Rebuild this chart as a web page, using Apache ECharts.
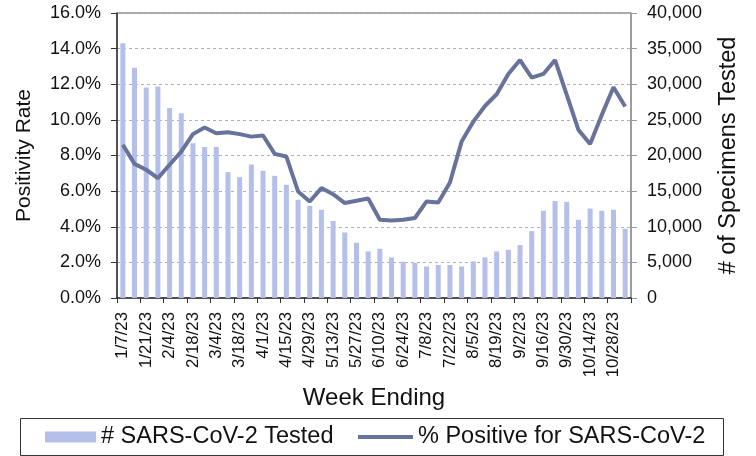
<!DOCTYPE html>
<html>
<head>
<meta charset="utf-8">
<script src="https://cdn.jsdelivr.net/npm/echarts@6/dist/echarts.min.js"></script>
<style>
  html, body { margin: 0; padding: 0; background: #fff; }
  #chart { width: 756px; height: 456px; }
</style>
</head>
<body>
<div id="chart"></div>
<script>
// week ending dates
var weeks = ['1/7/23','1/14/23','1/21/23','1/28/23','2/4/23','2/11/23','2/18/23','2/25/23','3/4/23','3/11/23',
  '3/18/23','3/25/23','4/1/23','4/8/23','4/15/23','4/22/23','4/29/23','5/6/23','5/13/23','5/20/23',
  '5/27/23','6/3/23','6/10/23','6/17/23','6/24/23','7/1/23','7/8/23','7/15/23','7/22/23','7/29/23',
  '8/5/23','8/12/23','8/19/23','8/26/23','9/2/23','9/9/23','9/16/23','9/23/23','9/30/23','10/7/23',
  '10/14/23','10/21/23','10/28/23','11/4/23'];

// # SARS-CoV-2 tested
var tested = [35750, 32330, 29530, 29670, 26680, 25940, 21730, 21210, 21210, 17670,
  16960, 18730, 17850, 17150, 15890, 13780, 12940, 12380, 10800, 9200,
  7750, 6540, 6910, 5700, 5090, 4910, 4430, 4630, 4630, 4430,
  5130, 5700, 6540, 6770, 7430, 9390, 12240, 13600, 13500, 10980,
  12560, 12240, 12380, 9720];

// % positive
var positive = [8.60, 7.53, 7.20, 6.73, 7.48, 8.22, 9.20, 9.57, 9.25, 9.31,
  9.20, 9.06, 9.12, 8.09, 7.94, 5.98, 5.42, 6.17, 5.83, 5.33,
  5.46, 5.59, 4.39, 4.35, 4.39, 4.49, 5.42, 5.36, 6.48, 8.78,
  9.90, 10.78, 11.44, 12.58, 13.36, 12.37, 12.58, 13.36, 11.40, 9.44,
  8.65, 10.28, 11.83, 10.75];

var chart = echarts.init(document.getElementById('chart'));
var font = 'Liberation Sans, Arial, sans-serif';
var barColor = '#b4bfea';
var lineColor = '#68739c';

var option = {
  animation: false,
  textStyle: { fontFamily: font },
  grid: {
    left: 117, right: 125, top: 13, bottom: 158,
    show: true, borderColor: '#555', borderWidth: 1
  },
  graphic: [{
    type: 'rect',
    shape: { x: 20.5, y: 418.5, width: 703, height: 37 },
    style: { fill: 'none', stroke: '#333', lineWidth: 1 },
    z: -1
  }],
  legend: [{
    left: 45, top: 425, padding: 0,
    itemWidth: 51, itemHeight: 11, itemGap: 0,
    textStyle: { fontFamily: font, fontSize: 23.5, color: '#111', padding: [0, 0, 0, 0] },
    data: [{ name: '# SARS-CoV-2 Tested', icon: 'rect' }]
  }, {
    left: 358, top: 425, padding: 0,
    itemWidth: 55, itemHeight: 4, itemGap: 0,
    textStyle: { fontFamily: font, fontSize: 23.5, color: '#111' },
    data: [{ name: '% Positive for SARS-CoV-2', icon: 'rect' }]
  }],
  xAxis: {
    type: 'category',
    data: weeks,
    name: 'Week Ending',
    nameLocation: 'middle',
    nameGap: 88,
    nameTextStyle: { fontSize: 24, color: '#111' },
    axisLine: { lineStyle: { color: '#333', width: 1.5 } },
    axisTick: { show: true, length: 5, lineStyle: { color: '#333' } },
    axisLabel: { rotate: 90, interval: 1, fontSize: 16.8, color: '#111', margin: 14 }
  },
  yAxis: [{
    type: 'value',
    min: 0, max: 0.16, interval: 0.02,
    name: 'Positivity Rate',
    nameLocation: 'middle',
    nameGap: 82,
    nameTextStyle: { fontSize: 21, color: '#111' },
    axisLine: { show: true, lineStyle: { color: '#333', width: 1.5 } },
    axisTick: { show: true, length: 6, lineStyle: { color: '#333' } },
    axisLabel: { fontSize: 18, color: '#111', margin: 16,
      formatter: function (v) { return (v * 100).toFixed(1) + '%'; } },
    splitLine: { lineStyle: { type: [3, 3], color: '#b0b0b0' } }
  }, {
    type: 'value',
    min: 0, max: 40000, interval: 5000,
    name: '# of Specimens Tested',
    nameLocation: 'middle',
    nameGap: 86,
    nameTextStyle: { fontSize: 23.5, color: '#111' },
    axisLine: { show: true, lineStyle: { color: '#999', width: 1.5 } },
    axisTick: { show: true, length: 6, lineStyle: { color: '#999' } },
    axisLabel: { fontSize: 18, color: '#111', margin: 16,
      formatter: function (v) { return v.toLocaleString('en-US'); } },
    splitLine: { show: false }
  }],
  series: [{
    name: '# SARS-CoV-2 Tested',
    type: 'bar',
    yAxisIndex: 1,
    barWidth: 5,
    itemStyle: { color: barColor },
    data: tested
  }, {
    name: '% Positive for SARS-CoV-2',
    type: 'line',
    yAxisIndex: 0,
    symbol: 'none',
    lineStyle: { color: lineColor, width: 4 },
    itemStyle: { color: lineColor },
    data: positive.map(function (v) { return v / 100; })
  }]
};

chart.setOption(option);
</script>
</body>
</html>
